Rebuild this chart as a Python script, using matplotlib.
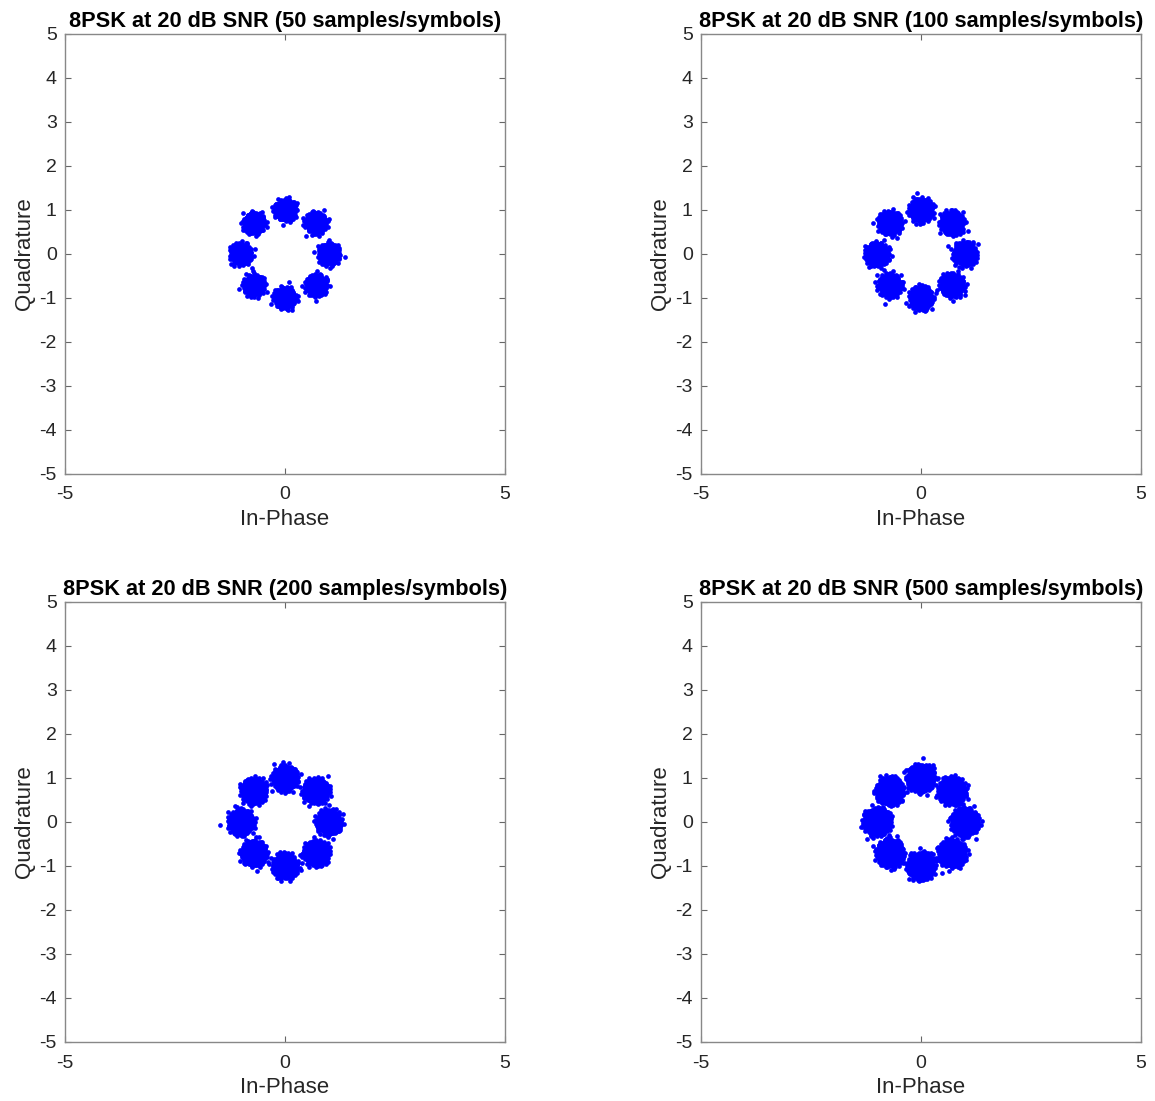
import numpy as np
import matplotlib
matplotlib.use("Agg")
import matplotlib.pyplot as plt

plt.rcParams['font.family'] = ['Liberation Sans', 'DejaVu Sans']
plt.rcParams['axes.unicode_minus'] = False

# Panel settings
samples_per_symbol = [50, 100, 200, 500]
snr_db = 20
points_per_cluster = [500, 800, 1200, 2000]
noise_sigma = [0.098, 0.102, 0.105, 0.108]

# 8PSK constellation phases (degrees)
phases_deg = [0, 45, 90, 135, 180, 225, 270, 315]

tick_y = [-5, -4, -3, -2, -1, 0, 1, 2, 3, 4, 5]
tick_x = [-5, 0, 5]


def halton(index, base):
    """Van der Corput radical inverse."""
    f, r = 1.0, 0.0
    i = index
    while i > 0:
        f /= base
        r += f * (i % base)
        i //= base
    return r


def noise_cloud(n, sigma, start):
    """Deterministic Gaussian-like cloud via Halton + Box-Muller."""
    idx = np.arange(start + 1, start + n + 1)
    u1 = np.array([halton(i, 2) for i in idx])
    u2 = np.array([halton(i, 3) for i in idx])
    u1 = np.clip(u1, 1e-6, 1.0)
    r = sigma * np.sqrt(-2.0 * np.log(u1))
    th = 2 * np.pi * u2
    return r * np.cos(th), r * np.sin(th)


fig = plt.figure(figsize=(11.55, 11.01), dpi=100)
W, H = 1155, 1101
boxes = [(65, 34), (701, 34), (65, 602), (701, 602)]
size = 440

offset = 17
for sps, npc, sig, (x0, y0) in zip(samples_per_symbol, points_per_cluster,
                                   noise_sigma, boxes):
    ax = fig.add_axes([x0 / W, 1 - (y0 + size) / H, size / W, size / H])
    xs, ys = [], []
    for p in phases_deg:
        dx, dy = noise_cloud(npc, sig, offset)
        offset += npc + 7
        xs.append(np.cos(np.radians(p)) + dx)
        ys.append(np.sin(np.radians(p)) + dy)
    xs = np.concatenate(xs)
    ys = np.concatenate(ys)
    ax.plot(xs, ys, 'o', color='#0000ff', markersize=3.4, markeredgewidth=0)
    ax.set_xlim(-5, 5)
    ax.set_ylim(-5, 5)
    ax.set_xticks(tick_x)
    ax.set_yticks(tick_y)
    ax.tick_params(direction='in', length=4, width=0.8, color='#666666',
                   labelsize=14, labelcolor='#262626', top=True, right=True,
                   labeltop=False, labelright=False)
    ax.tick_params(axis='x', pad=9)
    ax.tick_params(axis='y', pad=6)
    for s in ax.spines.values():
        s.set_color('#888888')
        s.set_linewidth(1.0)
    ax.set_xlabel('In-Phase', fontsize=16, color='#262626', labelpad=4)
    ax.set_ylabel('Quadrature', fontsize=16, color='#262626', labelpad=3)
    ax.set_title(f'8PSK at {snr_db} dB SNR ({sps} samples/symbols)',
                 fontsize=15.7, fontweight='bold', pad=5)

fig.savefig('out.png', dpi=100)
